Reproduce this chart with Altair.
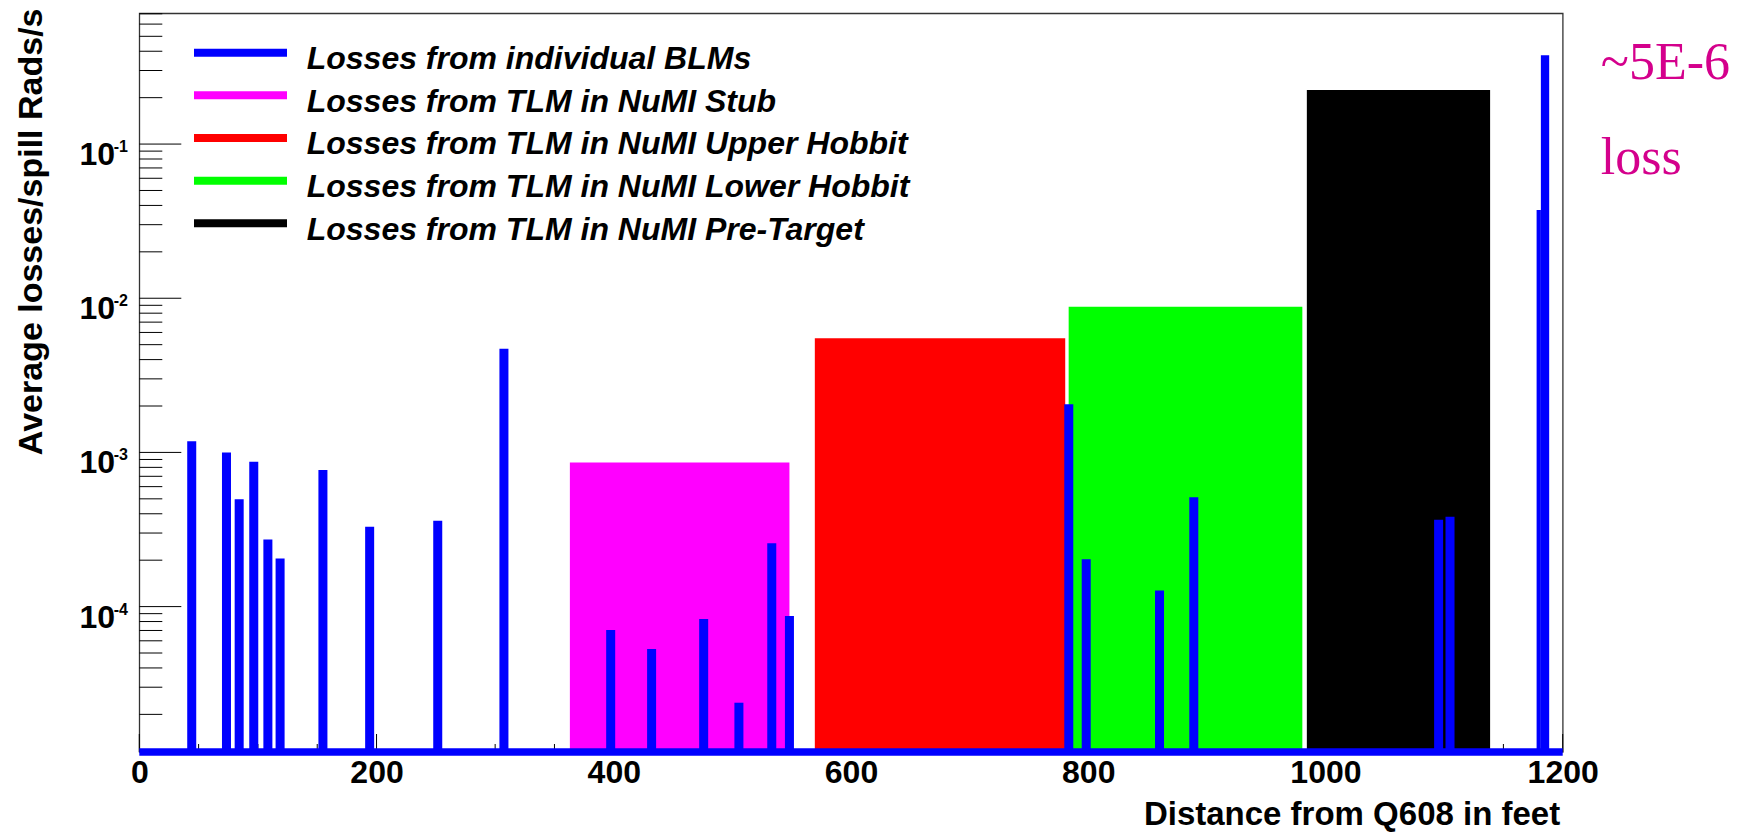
import altair as alt
import pandas as pd

# ---------------- data ----------------
# individual BLM losses: bin centre (feet), value (Rads/s), bin width (feet)
blm_pos = [44.2, 73.5, 84.2, 96.5, 108.4, 118.7, 154.8, 194.2, 251.6, 307.4,
           397.4, 431.9, 475.8, 505.5, 533.2, 548.1, 783.6, 798.3, 860.1, 889.0,
           1095.4, 1105.0, 1179.8, 1185.1]
blm_val = [1.18e-3, 1.0e-3, 4.96e-4, 8.7e-4, 2.72e-4, 2.05e-4, 7.7e-4, 3.29e-4, 3.6e-4, 4.7e-3,
           7.05e-5, 5.3e-5, 8.3e-5, 2.38e-5, 2.58e-4, 8.7e-5, 2.05e-3, 2.03e-4, 1.27e-4, 5.12e-4,
           3.66e-4, 3.83e-4, 3.73e-2, 3.77e-1]
blm_width = [7.6] * 22 + [3.6, 7.0]

# TLM (total loss monitor) regions
tlm_names = ["NuMI Stub", "NuMI Upper Hobbit", "NuMI Lower Hobbit", "NuMI Pre-Target"]
tlm_start = [363.0, 569.5, 783.5, 984.3]
tlm_end = [548.1, 780.6, 980.5, 1138.8]
tlm_val = [8.6e-4, 5.5e-3, 8.8e-3, 0.224]

legend_labels = ["Losses from individual BLMs",
                 "Losses from TLM in NuMI Stub",
                 "Losses from TLM in NuMI Upper Hobbit",
                 "Losses from TLM in NuMI Lower Hobbit",
                 "Losses from TLM in NuMI Pre-Target"]
legend_colors = ["#0000ff", "#ff00ff", "#ff0000", "#00ff00", "#000000"]

x_tick_labels = [0, 200, 400, 600, 800, 1000, 1200]
y_major = [1e-1, 1e-2, 1e-3, 1e-4]
y_major_exp = ["-1", "-2", "-3", "-4"]

YMIN = 1.14e-5
YMAX = 0.705
XMIN, XMAX = 0, 1200

# ---------------- layout ----------------
W, H = 1423.4, 738.7
PAD_L, PAD_T = 139.3, 13.3
FONT = "Liberation Sans"

# ---------------- frames ----------------
blm_df = pd.DataFrame({"pos": blm_pos, "val": blm_val, "w": blm_width})
blm_df["x0"] = blm_df["pos"] - blm_df["w"] / 2
blm_df["x1"] = blm_df["pos"] + blm_df["w"] / 2
blm_df["base"] = YMIN

tlm_df = pd.DataFrame({"name": tlm_names, "x0": tlm_start, "x1": tlm_end,
                       "val": tlm_val, "color": legend_colors[1:]})
tlm_df["base"] = YMIN

minor_x = [v for v in range(50, 1200, 50) if v % 200 != 0]
xt_major = pd.DataFrame({"v": x_tick_labels})
xt_minor = pd.DataFrame({"v": minor_x})
minor_y = [m * 10.0 ** k for k in range(-5, 0) for m in range(2, 10)
           if YMIN <= m * 10.0 ** k <= YMAX]
yt_major = pd.DataFrame({"v": y_major, "e": y_major_exp})
yt_minor = pd.DataFrame({"v": minor_y})

leg_df = pd.DataFrame({"label": legend_labels, "color": legend_colors,
                       "row": list(range(len(legend_labels)))})
base_df = pd.DataFrame({"x0": [XMIN], "x1": [XMAX], "y": [YMIN]})

xs = alt.Scale(domain=[XMIN, XMAX], nice=False, zero=False)
ys = alt.Scale(type="log", domain=[YMIN, YMAX], nice=False)
pix = alt.Scale(domain=[0, H], range=[0, H])

# axis layer (carries labels + titles)
axis_layer = alt.Chart(xt_major).mark_rule(color="black", strokeWidth=1).encode(
    x=alt.X("v:Q", scale=xs,
            axis=alt.Axis(values=x_tick_labels, format="d", ticks=False, domain=False,
                          grid=False, labelFont=FONT, labelFontSize=32,
                          labelFontWeight="bold", labelColor="black", labelPadding=5,
                          labelFlush=False, labelOverlap=False,
                          title="Distance from Q608 in feet", titleFont=FONT,
                          titleFontSize=33, titleFontWeight="bold", titleColor="black",
                          titleX=W - 3, titleY=72, titleAlign="right",
                          titleBaseline="alphabetic", titleAngle=0)),
    y=alt.value(H),
    y2=alt.value(H - 18),
)

xminor_layer = alt.Chart(xt_minor).mark_rule(color="black", strokeWidth=1).encode(
    x=alt.X("v:Q", scale=xs, axis=None),
    y=alt.value(H),
    y2=alt.value(H - 8),
)

ymajor_layer = alt.Chart(yt_major).mark_rule(color="black", strokeWidth=1).encode(
    y=alt.Y("v:Q", scale=ys,
            axis=alt.Axis(labels=False, ticks=False, domain=False, grid=False,
                          title="Average losses/spill Rads/s", titleFont=FONT,
                          titleFontSize=34, titleFontWeight="bold", titleColor="black",
                          titleAngle=270, titleX=-97.6, titleY=-5.3,
                          titleAlign="right", titleBaseline="alphabetic")),
    x=alt.value(0),
    x2=alt.value(42),
)

yminor_layer = alt.Chart(yt_minor).mark_rule(color="black", strokeWidth=1).encode(
    y=alt.Y("v:Q", scale=ys, axis=None),
    x=alt.value(0),
    x2=alt.value(23),
)

ylab_base = alt.Chart(yt_major).mark_text(
    font=FONT, fontSize=32, fontWeight="bold", color="black",
    align="right", baseline="alphabetic", dy=21).encode(
    y=alt.Y("v:Q", scale=ys, axis=None),
    x=alt.value(-24.3),
    text=alt.value("10"),
)

ylab_exp = alt.Chart(yt_major).mark_text(
    font=FONT, fontSize=16, fontWeight="bold", color="black",
    align="right", baseline="alphabetic", dy=8).encode(
    y=alt.Y("v:Q", scale=ys, axis=None),
    x=alt.value(-11.3),
    text="e:N",
)

tlm_layer = alt.Chart(tlm_df).mark_rect().encode(
    x=alt.X("x0:Q", scale=xs, axis=None),
    x2="x1:Q",
    y=alt.Y("val:Q", scale=ys, axis=None),
    y2="base:Q",
    color=alt.Color("color:N", scale=None),
)

blm_layer = alt.Chart(blm_df).mark_rect(color="#0000ff").encode(
    x=alt.X("x0:Q", scale=xs, axis=None),
    x2="x1:Q",
    y=alt.Y("val:Q", scale=ys, axis=None),
    y2="base:Q",
)

baseline_layer = alt.Chart(base_df).mark_rule(color="#0000ff", strokeWidth=7.3).encode(
    x=alt.X("x0:Q", scale=xs, axis=None),
    x2="x1:Q",
    y=alt.Y("y:Q", scale=ys, axis=None),
)

# legend (ROOT TLegend style, no border)
LEG_Y0, LEG_DY = 39.4, 42.65
leg_lines = alt.Chart(leg_df).mark_rule(strokeWidth=8).transform_calculate(
    yy=f"{LEG_Y0} + datum.row * {LEG_DY}").encode(
    x=alt.value(54.7),
    x2=alt.value(147.7),
    y=alt.Y("yy:Q", scale=pix, axis=None),
    color=alt.Color("color:N", scale=None),
)
leg_text = alt.Chart(leg_df).mark_text(
    font=FONT, fontSize=32, fontWeight="bold", fontStyle="italic", color="black",
    align="left", baseline="alphabetic", dy=16.3).transform_calculate(
    yy=f"{LEG_Y0} + datum.row * {LEG_DY}").encode(
    x=alt.value(167.4),
    y=alt.Y("yy:Q", scale=pix, axis=None),
    text="label:N",
)

note_df = pd.DataFrame({"t": ["~5E-6", "loss"], "yy": [65.7, 160.7]})
notes = alt.Chart(note_df).mark_text(
    font="Liberation Serif", fontSize=52, color="#d4008c",
    align="left", baseline="alphabetic").encode(
    x=alt.value(1461.5),
    y=alt.Y("yy:Q", scale=pix, axis=None),
    text="t:N",
)

chart = alt.layer(
    axis_layer, xminor_layer, ymajor_layer, yminor_layer,
    tlm_layer, blm_layer, baseline_layer,
    ylab_base, ylab_exp, leg_lines, leg_text, notes,
).resolve_scale(y="independent").resolve_axis(x="independent", y="independent").properties(
    width=W, height=H,
    autosize=alt.AutoSizeParams(type="none"),
    padding={"left": PAD_L, "top": PAD_T, "right": 1746 - PAD_L - W,
             "bottom": 832 - PAD_T - H},
    background="white",
).configure_view(stroke="#333333", strokeWidth=1.3)

chart.save("out.html", embed_options={"renderer": "svg", "actions": False})
